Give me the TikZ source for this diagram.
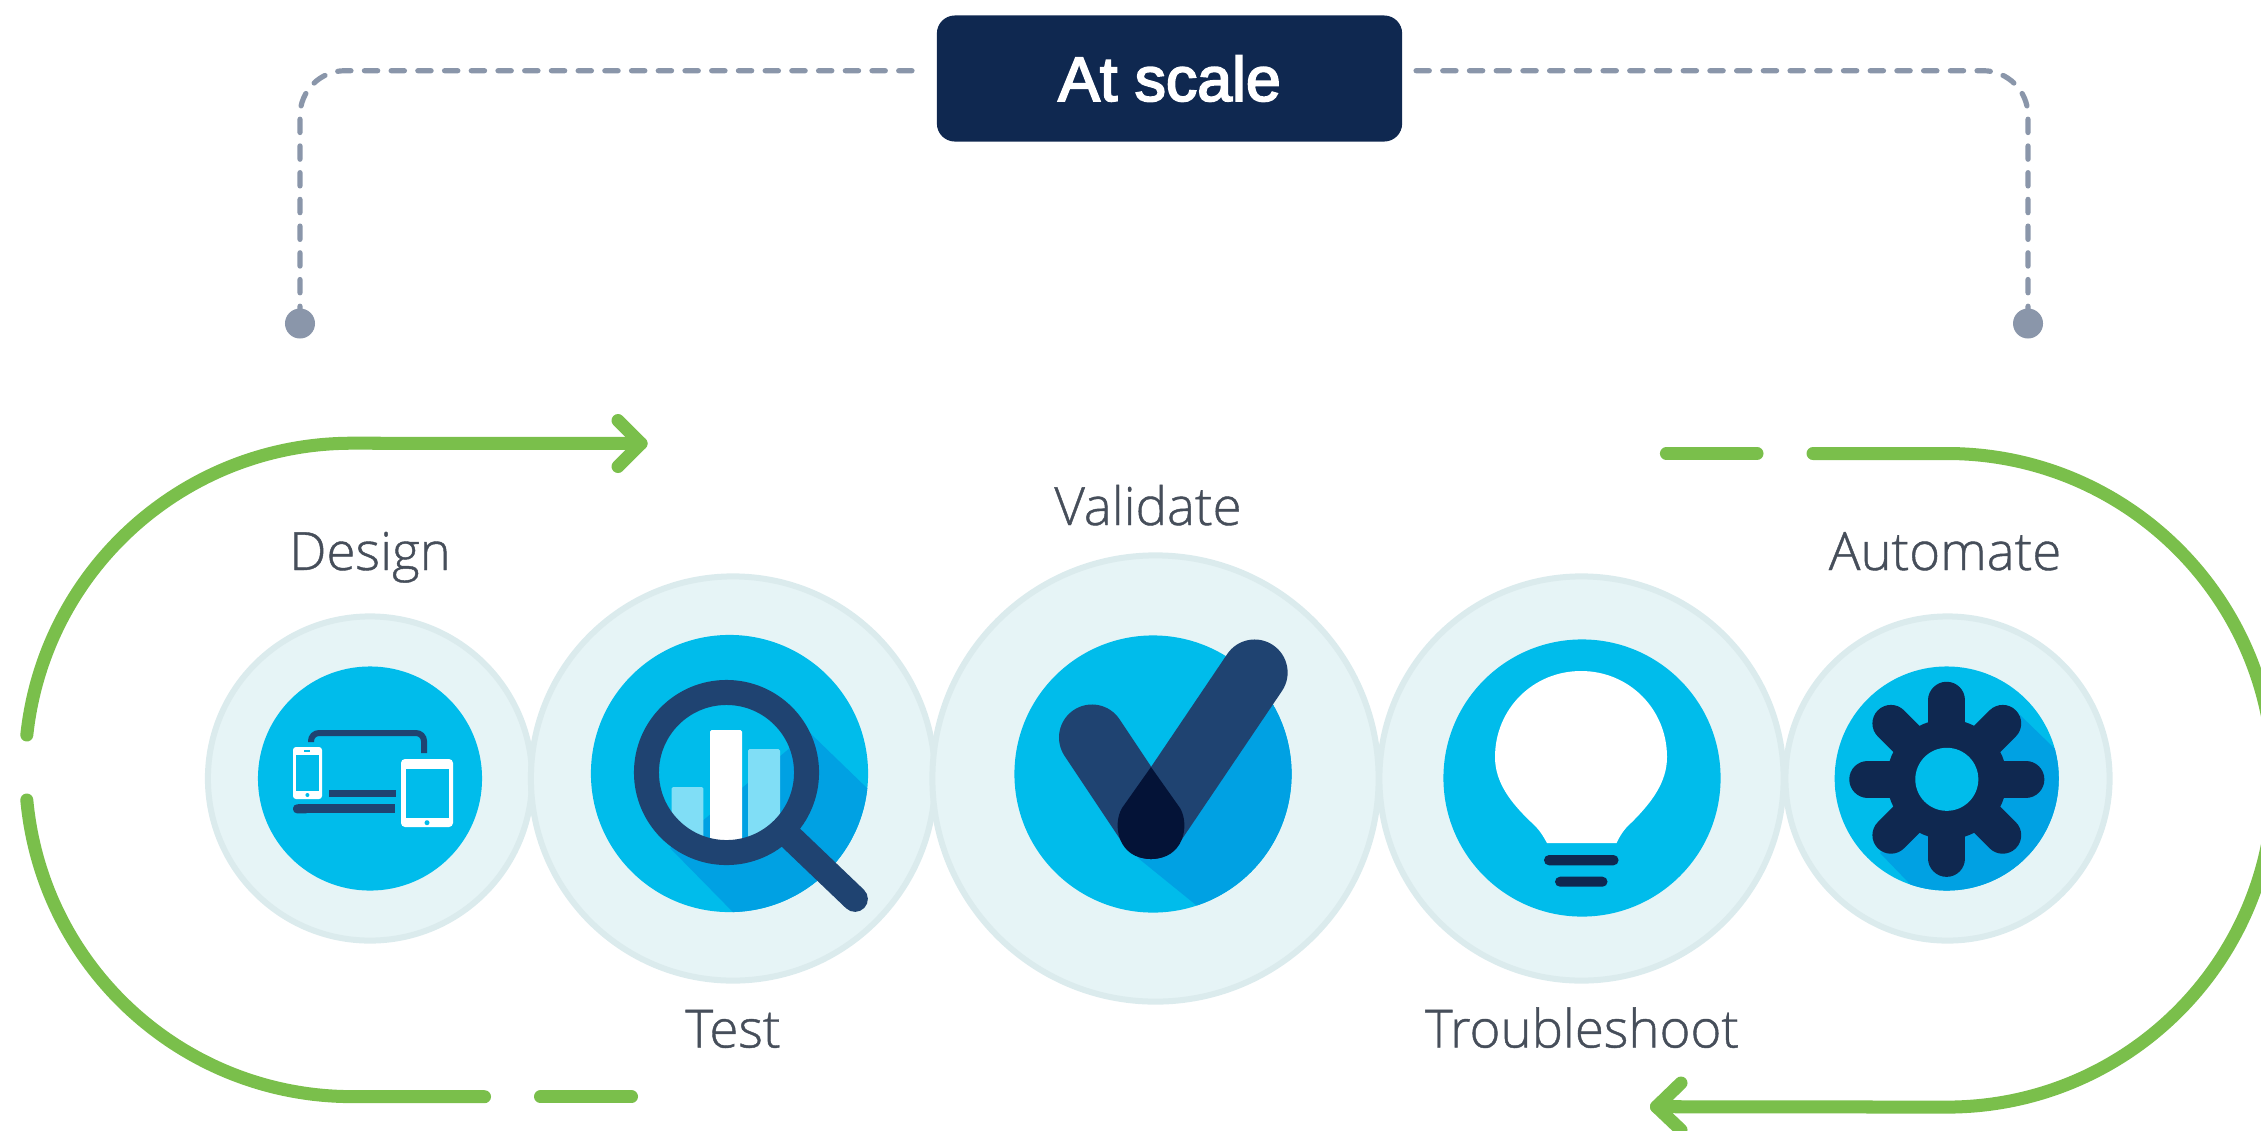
\documentclass[tikz,border=0pt]{standalone}
\usepackage{fontspec}
\setmainfont{Open Sans}
\newfontfamily\labfont[FakeBold=0.8]{Open Sans Light}
\newfontfamily\boxfont[FakeBold=3]{Liberation Sans}
\definecolor{cyanA}{HTML}{00BCEB}
\definecolor{cyanB}{HTML}{00A1E3}
\definecolor{cyanL}{HTML}{80DEF6}
\definecolor{navyA}{HTML}{1F4371}
\definecolor{navyB}{HTML}{0F2850}
\definecolor{navyC}{HTML}{041337}
\definecolor{ringF}{HTML}{E6F4F6}
\definecolor{ringS}{HTML}{DBEBED}
\definecolor{greenL}{HTML}{7ABF4B}
\definecolor{dashC}{HTML}{8A96AA}
\definecolor{labC}{HTML}{464E5A}
\tikzset{
  ring/.style={circle,draw=ringS,fill=ringF,line width=0.06cm,inner sep=0pt},
  core/.style={circle,fill=cyanA,inner sep=0pt},
  lab/.style={font=\fontsize{15}{18}\selectfont,text=labC,inner sep=0pt,anchor=base},
  loopline/.style={draw=greenL,line width=0.13cm,line cap=round,line join=round},
  dashline/.style={draw=dashC,line width=0.052cm,line cap=round,dash pattern=on 0.133cm off 0.134cm,rounded corners=0.45cm},
  dotend/.style={circle,fill=dashC,minimum size=0.3cm,inner sep=0pt},
}
\begin{document}
\begin{tikzpicture}[x=0.01cm,y=-0.01cm]
\useasboundingbox (0,0) rectangle (2261,1130);
\clip (0,0) rectangle (2261,1130);
% rings
\node[ring,minimum size=3.24cm] (r1) at (370,778.5) {};
\node[ring,minimum size=4.04cm] (r2) at (733,778.5) {};
\node[ring,minimum size=4.04cm] (r4) at (1581.5,778.5) {};
\node[ring,minimum size=3.24cm] (r5) at (1947.5,778.5) {};
\node[ring,minimum size=4.46cm] (r3) at (1155.5,778.5) {};
% cores
\node[core,minimum size=2.24cm] (c1) at (370,778.5) {};
\node[core,minimum size=2.77cm] (c2) at (729.5,773.5) {};
\node[core,minimum size=2.77cm] (c3) at (1153,774) {};
\node[core,minimum size=2.77cm] (c4) at (1582,778) {};
\node[core,minimum size=2.24cm] (c5) at (1946.7,778.5) {};
% design icon
\draw[navyA,line width=0.06cm,rounded corners=0.08cm] (311,742) -- (311,733) -- (424,733) -- (424,753);
\fill[white,rounded corners=0.03cm] (293,747) rectangle (322,799);
\fill[cyanA] (296,755) rectangle (319,791);
\fill[cyanA] (304,750) rectangle (310,752);
\fill[cyanA] (307.4,795) circle (0.02cm);
\fill[white,rounded corners=0.04cm] (401,759) rectangle (453,827);
\fill[cyanA] (406,769) rectangle (449,818);
\fill[cyanA] (427,822.7) circle (0.025cm);
\fill[navyA] (329,790) rectangle (396,797.3);
\fill[navyA,rounded corners=0.04cm] (293,804.3) rectangle (310,813.3);
\fill[navyA] (298,804.3) rectangle (395.4,813.3);
% test icon
\begin{scope}
\clip (729.5,773.5) circle (1.385cm);
\fill[cyanB] (809,732) -- (900,820) -- (900,960) -- (780,960) -- (670,848) -- cycle;
\end{scope}
\begin{scope}
\clip (726.5,772.5) circle (0.68cm);
\fill[cyanL,rounded corners=0.015cm] (671.5,787) rectangle (703.4,860);
\fill[white,rounded corners=0.015cm] (710,730) rectangle (742,860);
\fill[cyanL,rounded corners=0.015cm] (748,749) rectangle (780,860);
\end{scope}
\draw[navyA,line width=0.257cm,line cap=round] (790.7,837.5) -- (855,899);
\draw[navyA,line width=0.25cm] (726.5,772.5) circle (0.8cm);
% validate icon
\begin{scope}
\clip (1153,774) circle (1.385cm);
\fill[cyanB] (1254,672) -- (1272.5,703) -- (1320,780) -- (1320,960) -- (1196,905) -- (1138,858) -- (1151,826) -- cycle;
\end{scope}
\draw[navyA,line width=0.66cm,line cap=round] (1092,737.5) -- (1151,826);
\draw[navyA,line width=0.66cm,line cap=round] (1254.6,672.5) -- (1151,826);
\fill[navyC] (1151,767) -- (1122,808) .. controls (1112,825) and (1118,859) .. (1151,859) .. controls (1184,859) and (1190,825) .. (1180,808) -- cycle;
% troubleshoot icon
\fill[white] (1547,843) .. controls (1543,836) and (1540,830) .. (1531,822) .. controls (1510,802) and (1495,782) .. (1495,757) .. controls (1495,709) and (1533,671) .. (1581,671) .. controls (1629,671) and (1667,709) .. (1667,757) .. controls (1667,782) and (1652,802) .. (1632,822) .. controls (1623,830) and (1620,836) .. (1616.5,843) -- cycle;
\fill[navyB,rounded corners=0.05cm] (1544,855) rectangle (1618.5,865.3);
\fill[navyB,rounded corners=0.05cm] (1555,876.7) rectangle (1607.5,886.7);
% automate icon
\begin{scope}
\clip (1946.7,778.5) circle (1.12cm);
\fill[cyanB] (2020,715) -- (2085,778) -- (2085,910) -- (1935,910) -- (1880,853) -- cycle;
\end{scope}
\foreach \a in {0,45,...,315}{
  \draw[navyB,line width=0.37cm,line cap=round] (1946.8,779.3) -- ++(\a:0.79cm);
}
\fill[navyB] (1946.8,779.3) circle (0.6cm);
\fill[cyanA] (1946.8,779.3) circle (0.315cm);
% labels
\node[lab] (l1) at (370,570) {\labfont Design};
\node[lab] (l2) at (733,1047.5) {\labfont Test};
\node[lab] (l3) at (1148,525) {\labfont Validate};
\node[lab] (l4) at (1582,1047.5) {\labfont Troubleshoot};
\node[lab] (l5) at (1945,570) {\labfont Automate};
% top box
\node[fill=navyB,rounded corners=0.18cm,minimum width=4.65cm,minimum height=1.26cm,inner sep=0pt,text=white,font=\fontsize{17.8}{20}\selectfont] (box) at (1169.5,78.5) {\boxfont At scale};
\node[dotend] (dl) at (300,323.5) {};
\node[dotend] (dr) at (2028,323.5) {};
\coordinate (sl) at (912,70.7);
\coordinate (sr) at (1416,70.7);
\draw[dashline] (sl) -| (dl.center);
\draw[dashline] (sr) -| (dr.center);
% green loop
\coordinate (ltip) at (641,443.5);
\coordinate (la) at (26.8,735);
\coordinate (lb) at (26.8,800);
\coordinate (lc) at (484.5,1096.7);
\coordinate (ld) at (540.5,1096.7);
\coordinate (le) at (631.5,1096.7);
\coordinate (ra) at (1666.4,453.5);
\coordinate (rb) at (1757,453.5);
\coordinate (rc) at (1813,453.5);
\coordinate (rtip) at (1656.5,1106.7);
\draw[loopline] (la) arc[start angle=173.85,end angle=90,radius=3.266cm] -- (ltip);
\draw[loopline] (618,420.5) -- (ltip) -- (618,466.5);
\draw[loopline] (lb) arc[start angle=185.3,end angle=270,radius=3.266cm] -- (lc);
\draw[loopline] (ld) -- (le);
\draw[loopline] (ra) -- (rb);
\draw[loopline] (rc) -- (1947,453.5) arc[start angle=90,end angle=-90,radius=3.266cm] -- (rtip);
\draw[loopline] (1681,1083) -- (rtip) -- (1681,1130);
\end{tikzpicture}
\end{document}
